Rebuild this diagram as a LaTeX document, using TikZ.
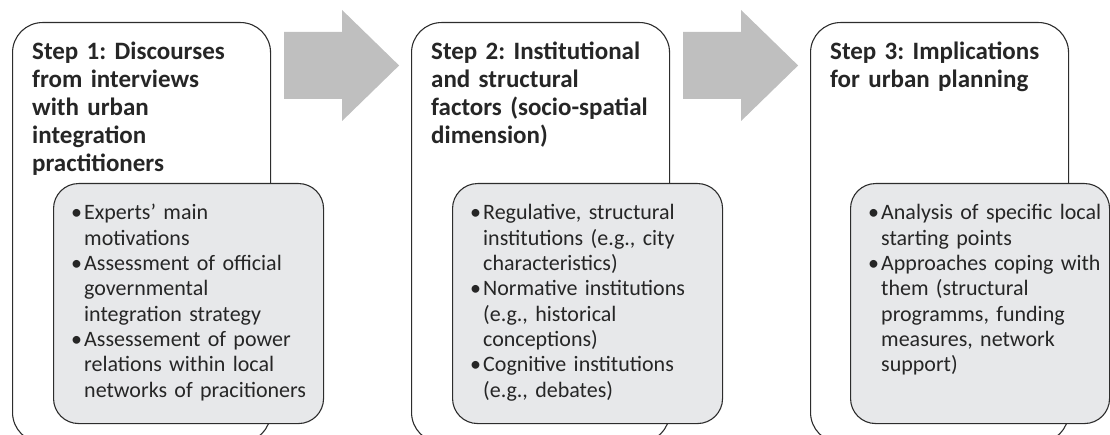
\documentclass[tikz,border=0pt]{standalone}
\usepackage{fontspec}
\setmainfont{Carlito}
\usetikzlibrary{calc}
\definecolor{arrowgray}{RGB}{191,191,191}
\definecolor{panelgray}{RGB}{231,232,234}
\definecolor{linecol}{RGB}{45,45,45}
\definecolor{textcol}{RGB}{38,38,38}
\tikzset{
  stepbox/.style={draw=linecol, line width=1.1pt, rounded corners=30pt, fill=white,
    minimum width=258pt, minimum height=420pt, anchor=north west, inner sep=0pt},
  detailbox/.style={draw=linecol, line width=1.1pt, rounded corners=25pt, fill=panelgray,
    minimum height=240pt, anchor=north west, inner sep=0pt},
  titletext/.style={anchor=base west, inner sep=0pt, text width=300pt,
    font=\fontsize{25}{27.8}\selectfont\bfseries, text=textcol},
  bodytext/.style={anchor=base west, inner sep=0pt, text width=300pt,
    font=\fontsize{22}{25.3}\selectfont, text=textcol},
  bigarrow/.style={fill=arrowgray, draw=none},
}
\newcommand{\bfirst}{\hangindent=13pt\hangafter=1\makebox[13pt][l]{\textbullet}}
\newcommand{\bitem}{\par\noindent\bfirst}
\frenchspacing
\begin{document}
\begin{tikzpicture}[x=1pt,y=-1pt]
\useasboundingbox (0,0) rectangle (1110,435);
\begin{scope}
\clip (0,0) rectangle (1110,435);
% step boxes
\node[stepbox] (s1) at (12,22) {};
\node[stepbox] (s2) at (411,22) {};
\node[stepbox] (s3) at (810,22) {};
% titles
\node[titletext] (t1) at (32,60) {Step 1: Discourses\newline from interviews\newline with urban\newline integration\newline practitioners};
\node[titletext] (t2) at (431,60) {Step 2: Institutional\newline and structural\newline factors (socio-spatial\newline dimension)};
\node[titletext] (t3) at (830,60) {Step 3: Implications\newline for urban planning};
% detail boxes
\node[detailbox, minimum width=270pt] (d1) at (53,183) {};
\node[detailbox, minimum width=270pt] (d2) at (452,183) {};
\node[detailbox, minimum width=259pt] (d3) at (850,183) {};
% body texts
\node[bodytext] (b1) at (71,220) {\bfirst Experts’ main\newline motivations
  \bitem Assessment of official\newline governmental\newline integration strategy
  \bitem Assessement of power\newline relations within local\newline networks of pracitioners\par};
\node[bodytext] (b2) at (470,220) {\bfirst Regulative, structural\newline institutions (e.g., city\newline characteristics)
  \bitem Normative institutions\newline (e.g., historical\newline conceptions)
  \bitem Cognitive institutions\newline (e.g., debates)\par};
\node[bodytext] (b3) at (868,220) {\bfirst Analysis of specific local\newline starting points
  \bitem Approaches coping with\newline them (structural\newline programms, funding\newline measures, network\newline support)\par};
% arrows between the step boxes
\fill[bigarrow] ($(s1.north east)+(13,10)$) coordinate (a1) -- ++(58,0) -- ++(0,-22)
  -- ++(57,55.5) -- ++(-57,55.5) -- ++(0,-22) -- ++(-58,0) -- cycle;
\fill[bigarrow] ($(s2.north east)+(13,10)$) coordinate (a2) -- ++(58,0) -- ++(0,-22)
  -- ++(57,55.5) -- ++(-57,55.5) -- ++(0,-22) -- ++(-58,0) -- cycle;
\end{scope}
\end{tikzpicture}
\end{document}
